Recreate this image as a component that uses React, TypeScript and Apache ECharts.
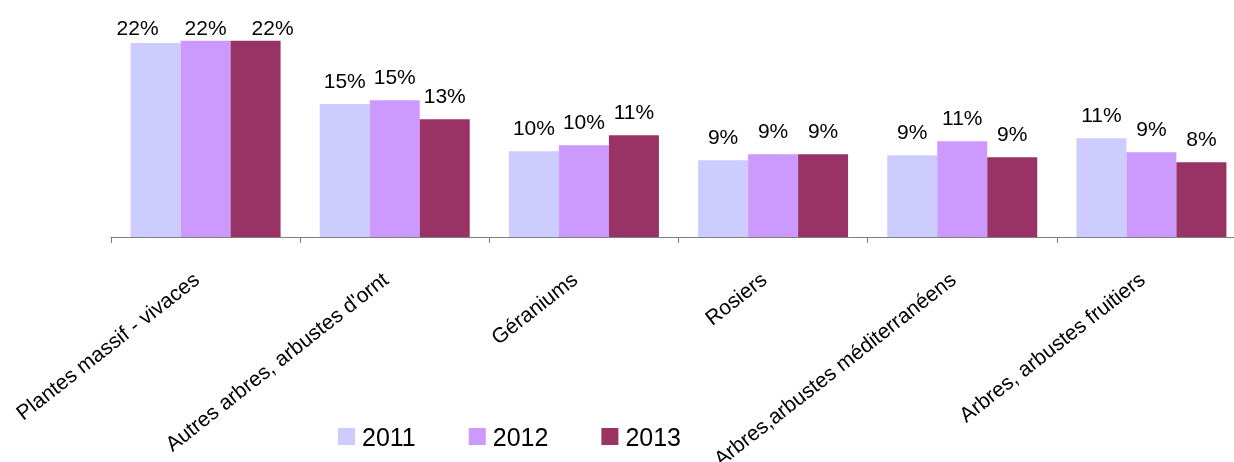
import React, { useEffect, useRef } from "react";
import * as echarts from "echarts";

const categories = [
  "Plantes massif - vivaces",
  "Autres arbres, arbustes d'ornt",
  "Géraniums",
  "Rosiers",
  "Arbres,arbustes méditerranéens",
  "Arbres, arbustes fruitiers",
];
const seriesNames = ["2011", "2012", "2013"];
const values2011 = [0.2164, 0.1483, 0.0958, 0.0857, 0.0913, 0.1103];
const values2012 = [0.219, 0.1527, 0.1025, 0.0924, 0.1069, 0.0946];
const values2013 = [0.219, 0.1315, 0.1136, 0.0924, 0.089, 0.0835];
const colors = ["#CCCCFF", "#CC99FF", "#993366"];

// manual label offsets (first group was moved in the original)
const labelOffsets: Record<string, [number, number][]> = {
  "2011": [[-18, 8], [0, 0], [0, 0], [0, 0], [0, 0], [0, 0]],
  "2012": [[0, 10], [0, 0], [0, 0], [0, 0], [0, 0], [0, 0]],
  "2013": [[17, 10], [0, 0], [0, 0], [0, 0], [0, 0], [0, 0]],
};

const FONT = "'Liberation Sans', Arial, sans-serif";

export default function App() {
  const ref = useRef<HTMLDivElement>(null);
  useEffect(() => {
    if (!ref.current) return;
    const chart = echarts.init(ref.current, undefined, { renderer: "svg" });
    const allValues = [values2011, values2012, values2013];
    chart.setOption({
      animation: false,
      textStyle: { fontFamily: FONT },
      grid: {
        left: 111,
        right: 0,
        top: 13,
        bottom: 225,
        containLabel: false,
        outerBoundsMode: "none",
      },
      legend: {
        left: 338,
        top: 424,
        padding: 0,
        itemWidth: 17,
        itemHeight: 17,
        itemGap: 53,
        icon: "rect",
        textStyle: {
          fontSize: 25,
          color: "#000",
          fontFamily: FONT,
          padding: [0, 0, 0, 2],
        },
        data: seriesNames,
      },
      xAxis: {
        type: "category",
        data: categories,
        axisLine: { lineStyle: { color: "#808080", width: 1 } },
        axisTick: { show: true, length: 6, lineStyle: { color: "#808080" } },
        axisLabel: {
          interval: 0,
          rotate: 38,
          margin: 32,
          padding: [0, 12, 0, 0],
          color: "#000",
          fontSize: 21,
          fontFamily: FONT,
          hideOverlap: false,
        },
      },
      yAxis: {
        type: "value",
        min: 0,
        max: 0.25,
        show: false,
        splitLine: { show: false },
      },
      series: seriesNames.map((name, si) => ({
        name,
        type: "bar",
        barWidth: 50,
        barGap: "0%",
        itemStyle: { color: colors[si] },
        label: {
          show: true,
          position: "top",
          distance: 13,
          color: "#000",
          fontSize: 21,
          fontFamily: FONT,
          formatter: (p: any) => Math.round(p.value * 100) + "%",
        },
        data: allValues[si].map((v, i) => ({
          value: v,
          label: { offset: labelOffsets[name][i] },
        })),
      })),
    });
    return () => chart.dispose();
  }, []);
  return (
    <div
      style={{
        position: "fixed",
        left: 0,
        top: 0,
        width: 1234,
        height: 462,
        overflow: "hidden",
      }}
    >
      <div ref={ref} style={{ width: 1246, height: 462 }} />
    </div>
  );
}
